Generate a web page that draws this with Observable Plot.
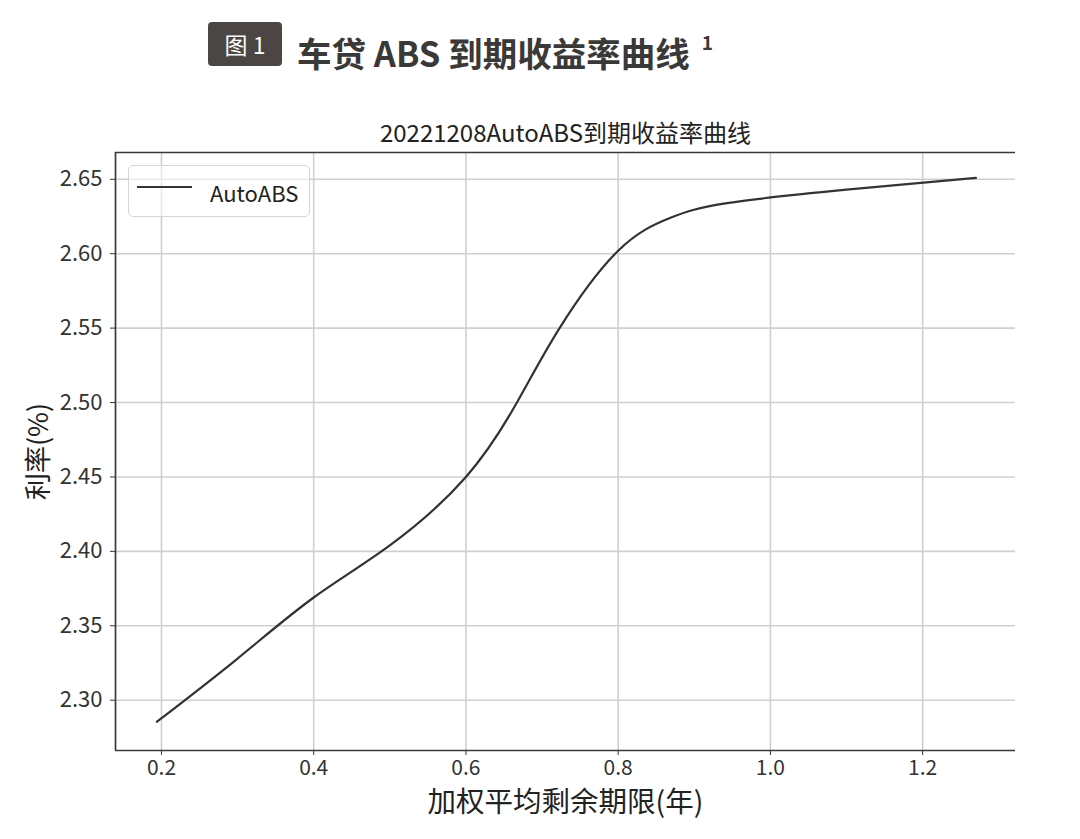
<!DOCTYPE html>
<html>
<head>
<meta charset="utf-8">
<script src="https://cdn.jsdelivr.net/npm/d3@7"></script>
<script src="https://cdn.jsdelivr.net/npm/@observablehq/plot@0.6"></script>
<style>
  html, body { margin: 0; padding: 0; background: #fff; }
  #wrap { position: relative; width: 1080px; height: 839px; font-family: "Noto Sans CJK SC", "Noto Sans", sans-serif; }
  #header { position: relative; width: 1080px; height: 90px; }
  #badge { position: absolute; left: 208px; top: 22px; width: 74px; height: 44px; background: #4b4644; border-radius: 4px;
           color: #fff; font-size: 23px; line-height: 44px; text-align: center; }
  #maintitle { position: absolute; left: 297px; top: 20px; height: 52px; line-height: 52px; font-size: 34.5px; font-weight: 700; color: #3b3838; white-space: nowrap; }
  #maintitle sup { font-size: 19px; position: relative; top: -4px; margin-left: 12px; }
  #legend { position: absolute; left: 128px; top: 165px; width: 182px; height: 52px; border: 1px solid #d6d6d6; border-radius: 5px;
            background: rgba(255,255,255,0.55); box-sizing: border-box; }
  #legend svg { position: absolute; left: 8px; top: 18px; }
  #legend span { position: absolute; left: 81px; top: 10px; font-size: 22px; line-height: 32px; color: #222; }
</style>
</head>
<body>
<div id="wrap">
  <div id="header">
    <div id="badge">图 1</div>
    <div id="maintitle">车贷 ABS 到期收益率曲线<sup>1</sup></div>
  </div>
  <div id="chart"></div>
  <div id="legend"><svg width="56" height="6"><line x1="0" x2="55" y1="3" y2="3" stroke="#333" stroke-width="2.2"/></svg><span>AutoABS</span></div>
</div>
<script>
// ---- data ----
const maturity = [0.194, 0.300, 0.400, 0.500, 0.600, 0.667, 0.723, 0.800, 0.868, 0.943, 1.100, 1.270];
const yieldPct = [2.2855, 2.328, 2.369, 2.404, 2.450, 2.500, 2.550, 2.602, 2.624, 2.634, 2.643, 2.651];
const xTicks = [0.2, 0.4, 0.6, 0.8, 1.0, 1.2];
const yTicks = [2.30, 2.35, 2.40, 2.45, 2.50, 2.55, 2.60, 2.65];
const xDomain = [0.1396, 1.322];
const yDomain = [2.2662, 2.668];
const chartTitle = "20221208AutoABS到期收益率曲线";
const xLabel = "加权平均剩余期限(年)";
const yLabel = "利率(%)";
const seriesName = "AutoABS";

const data = maturity.map((x, i) => ({x, y: yieldPct[i], series: seriesName}));

const plot = Plot.plot({
  width: 1080,
  height: 749,
  marginLeft: 115,
  marginRight: 65,
  marginTop: 62,
  marginBottom: 89,
  style: {fontFamily: "'Noto Sans CJK SC', 'Noto Sans', sans-serif", fontSize: "22px", color: "#333", background: "transparent", overflow: "visible"},
  x: {domain: xDomain},
  y: {domain: yDomain},
  marks: [
    Plot.gridX(xTicks, {stroke: "#cfcfcf", strokeOpacity: 1, strokeWidth: 1.6}),
    Plot.gridY(yTicks, {stroke: "#cfcfcf", strokeOpacity: 1, strokeWidth: 1.6}),
    Plot.axisX(xTicks, {tickSize: 5, tickPadding: 5, tickFormat: d => d.toFixed(1), label: null, fontSize: 21, fill: "#333", stroke: "#333"}),
    Plot.axisY(yTicks, {tickSize: 5, tickPadding: 8, tickFormat: d => d.toFixed(2), label: null, fontSize: 22, fill: "#333", stroke: "#333"}),
    Plot.ruleX([xDomain[0]], {stroke: "#3a3a3a", strokeWidth: 1.7}),
    Plot.ruleY(yDomain, {stroke: "#3a3a3a", strokeWidth: 1.7}),
    Plot.line(data, {x: "x", y: "y", stroke: "#333", strokeWidth: 2.2, curve: "natural"}),
    Plot.text([chartTitle], {text: d => d, frameAnchor: "top", lineAnchor: "middle", dy: -18, fontSize: 24, fill: "#222"}),
    Plot.text([xLabel], {text: d => d, frameAnchor: "bottom", lineAnchor: "middle", dy: 52, fontSize: 28.5, fill: "#222"}),
    Plot.text([yLabel], {text: d => d, frameAnchor: "left", textAnchor: "middle", lineAnchor: "middle", dx: -76, rotate: -90, fontSize: 27, fill: "#222"})
  ]
});
document.getElementById("chart").appendChild(plot);
</script>
</body>
</html>
